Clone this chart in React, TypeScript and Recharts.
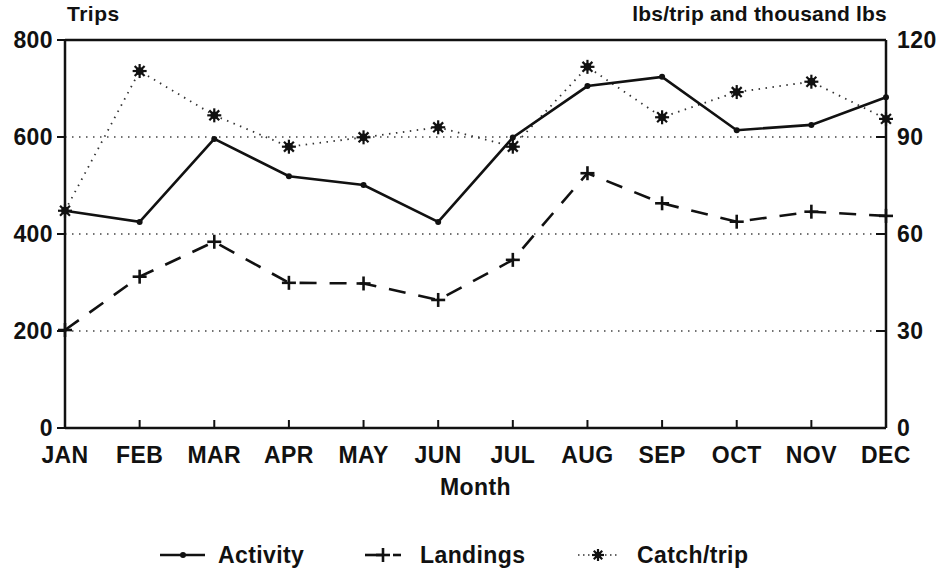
import React from 'react';
import { LineChart, Line, XAxis, YAxis, CartesianGrid, ReferenceLine, Legend } from 'recharts';

const months = ['JAN', 'FEB', 'MAR', 'APR', 'MAY', 'JUN', 'JUL', 'AUG', 'SEP', 'OCT', 'NOV', 'DEC'];
const activity = [448, 425, 596, 519, 501, 425, 599, 705, 724, 614, 625, 682];
const landings = [30.3, 46.8, 57.6, 44.9, 44.7, 39.6, 52, 78.8, 69.5, 63.8, 66.9, 65.6];
const catchPerTrip = [67.2, 110.4, 96.7, 87, 89.9, 93, 87, 111.7, 96.1, 103.9, 107.1, 95.6];
const leftTicks = [0, 200, 400, 600, 800];
const rightTicks = [0, 30, 60, 90, 120];

const data = months.map((m, i) => ({
  month: m,
  activity: activity[i],
  landings: landings[i],
  catchTrip: catchPerTrip[i],
}));

const FONT = '"Liberation Sans", Arial, Helvetica, sans-serif';
const tickStyle = { fontFamily: FONT, fontWeight: 700, fontSize: 23, fill: '#111', letterSpacing: 0.4 };

const Star = ({ cx, cy, r = 7 }: { cx: number; cy: number; r?: number }) => {
  const spokes = [0, 45, 90, 135];
  return (
    <g>
      {spokes.map((a) => {
        const rad = (a * Math.PI) / 180;
        const dx = Math.cos(rad) * r;
        const dy = Math.sin(rad) * r;
        return <line key={a} x1={cx - dx} y1={cy - dy} x2={cx + dx} y2={cy + dy} stroke="#111" strokeWidth={2.2} />;
      })}
      <circle cx={cx} cy={cy} r={r * 0.55} fill="#111" />
    </g>
  );
};

const Plus = ({ cx, cy, r = 7 }: { cx: number; cy: number; r?: number }) => (
  <g>
    <line x1={cx - r} y1={cy} x2={cx + r} y2={cy} stroke="#111" strokeWidth={2.6} />
    <line x1={cx} y1={cy - r} x2={cx} y2={cy + r} stroke="#111" strokeWidth={2.6} />
  </g>
);

const renderStar = (props: any) => <Star key={`s-${props.index}`} cx={props.cx} cy={props.cy} />;
const renderPlus = (props: any) => <Plus key={`p-${props.index}`} cx={props.cx} cy={props.cy} />;
const renderDot = (props: any) => <circle key={`d-${props.index}`} cx={props.cx} cy={props.cy} r={3} fill="#111" />;

const LegendContent = () => (
  <svg width={945} height={30} style={{ display: 'block' }}>
    <g>
      <line x1={160} y1={15} x2={205} y2={15} stroke="#111" strokeWidth={2.6} />
      <circle cx={183} cy={15} r={3} fill="#111" />
      <text x={218} y={23} style={tickStyle}>Activity</text>
    </g>
    <g>
      <line x1={365} y1={15} x2={383} y2={15} stroke="#111" strokeWidth={2.6} />
      <Plus cx={383} cy={15} r={7} />
      <line x1={393} y1={15} x2={401} y2={15} stroke="#111" strokeWidth={2.6} />
      <text x={420} y={23} style={tickStyle}>Landings</text>
    </g>
    <g>
      <line x1={578} y1={15} x2={592} y2={15} stroke="#333" strokeWidth={1.6} strokeDasharray="1.5 3.5" />
      <Star cx={598} cy={15} r={6} />
      <line x1={605} y1={15} x2={619} y2={15} stroke="#333" strokeWidth={1.6} strokeDasharray="1.5 3.5" />
      <text x={637} y={23} style={tickStyle}>Catch/trip</text>
    </g>
  </svg>
);

export default function App() {
  return (
    <div style={{ position: 'absolute', left: 0, top: 0, width: 945, height: 573, background: '#fff' }}>
      <div style={{ position: 'absolute', left: 67, top: 2, fontFamily: FONT, fontWeight: 700, fontSize: 21, letterSpacing: 0.5, color: '#111' }}>
        Trips
      </div>
      <div style={{ position: 'absolute', right: 58, top: 2, fontFamily: FONT, fontWeight: 700, fontSize: 21, letterSpacing: 0.2, color: '#111' }}>
        lbs/trip and thousand lbs
      </div>
      <LineChart
        width={945}
        height={573}
        data={data}
        margin={{ top: 40, right: 0, bottom: 35, left: 0 }}
      >
        <CartesianGrid yAxisId="left" vertical={false} stroke="#444" strokeWidth={1.4} strokeDasharray="1.5 5.5" />
        <XAxis
          dataKey="month"
          height={80}
          interval={0}
          axisLine={{ stroke: '#111', strokeWidth: 2.5 }}
          tickLine={{ stroke: '#111', strokeWidth: 2 }}
          tickSize={-8}
          tickMargin={27}
          tick={tickStyle}
          label={{ value: 'Month', position: 'insideTop', offset: 51, style: { ...tickStyle } }}
        />
        <YAxis
          yAxisId="left"
          orientation="left"
          width={65}
          domain={[0, 800]}
          ticks={leftTicks}
          interval={0}
          axisLine={{ stroke: '#111', strokeWidth: 2.5 }}
          tickLine={{ stroke: '#111', strokeWidth: 2 }}
          tickSize={8}
          tickMargin={4}
          tick={tickStyle}
        />
        <YAxis
          yAxisId="right"
          orientation="right"
          width={59}
          domain={[0, 120]}
          ticks={rightTicks}
          interval={0}
          axisLine={{ stroke: '#111', strokeWidth: 2.5 }}
          tickLine={{ stroke: '#111', strokeWidth: 2 }}
          tickSize={-10}
          tickMargin={21}
          tick={tickStyle}
        />
        <ReferenceLine yAxisId="left" y={800} stroke="#111" strokeWidth={2.5} />
        <Line
          yAxisId="right"
          dataKey="catchTrip"
          type="linear"
          stroke="#333"
          strokeWidth={1.8}
          strokeDasharray="1.5 5.5"
          dot={renderStar}
          isAnimationActive={false}
        />
        <Line
          yAxisId="right"
          dataKey="landings"
          type="linear"
          stroke="#111"
          strokeWidth={2.6}
          strokeDasharray="17 13"
          dot={renderPlus}
          isAnimationActive={false}
        />
        <Line
          yAxisId="left"
          dataKey="activity"
          type="linear"
          stroke="#111"
          strokeWidth={2.6}
          dot={renderDot}
          isAnimationActive={false}
        />
        <Legend
          content={LegendContent}
          wrapperStyle={{ left: 0, top: 540, bottom: 'auto', width: 945, height: 30 }}
        />
      </LineChart>
    </div>
  );
}
